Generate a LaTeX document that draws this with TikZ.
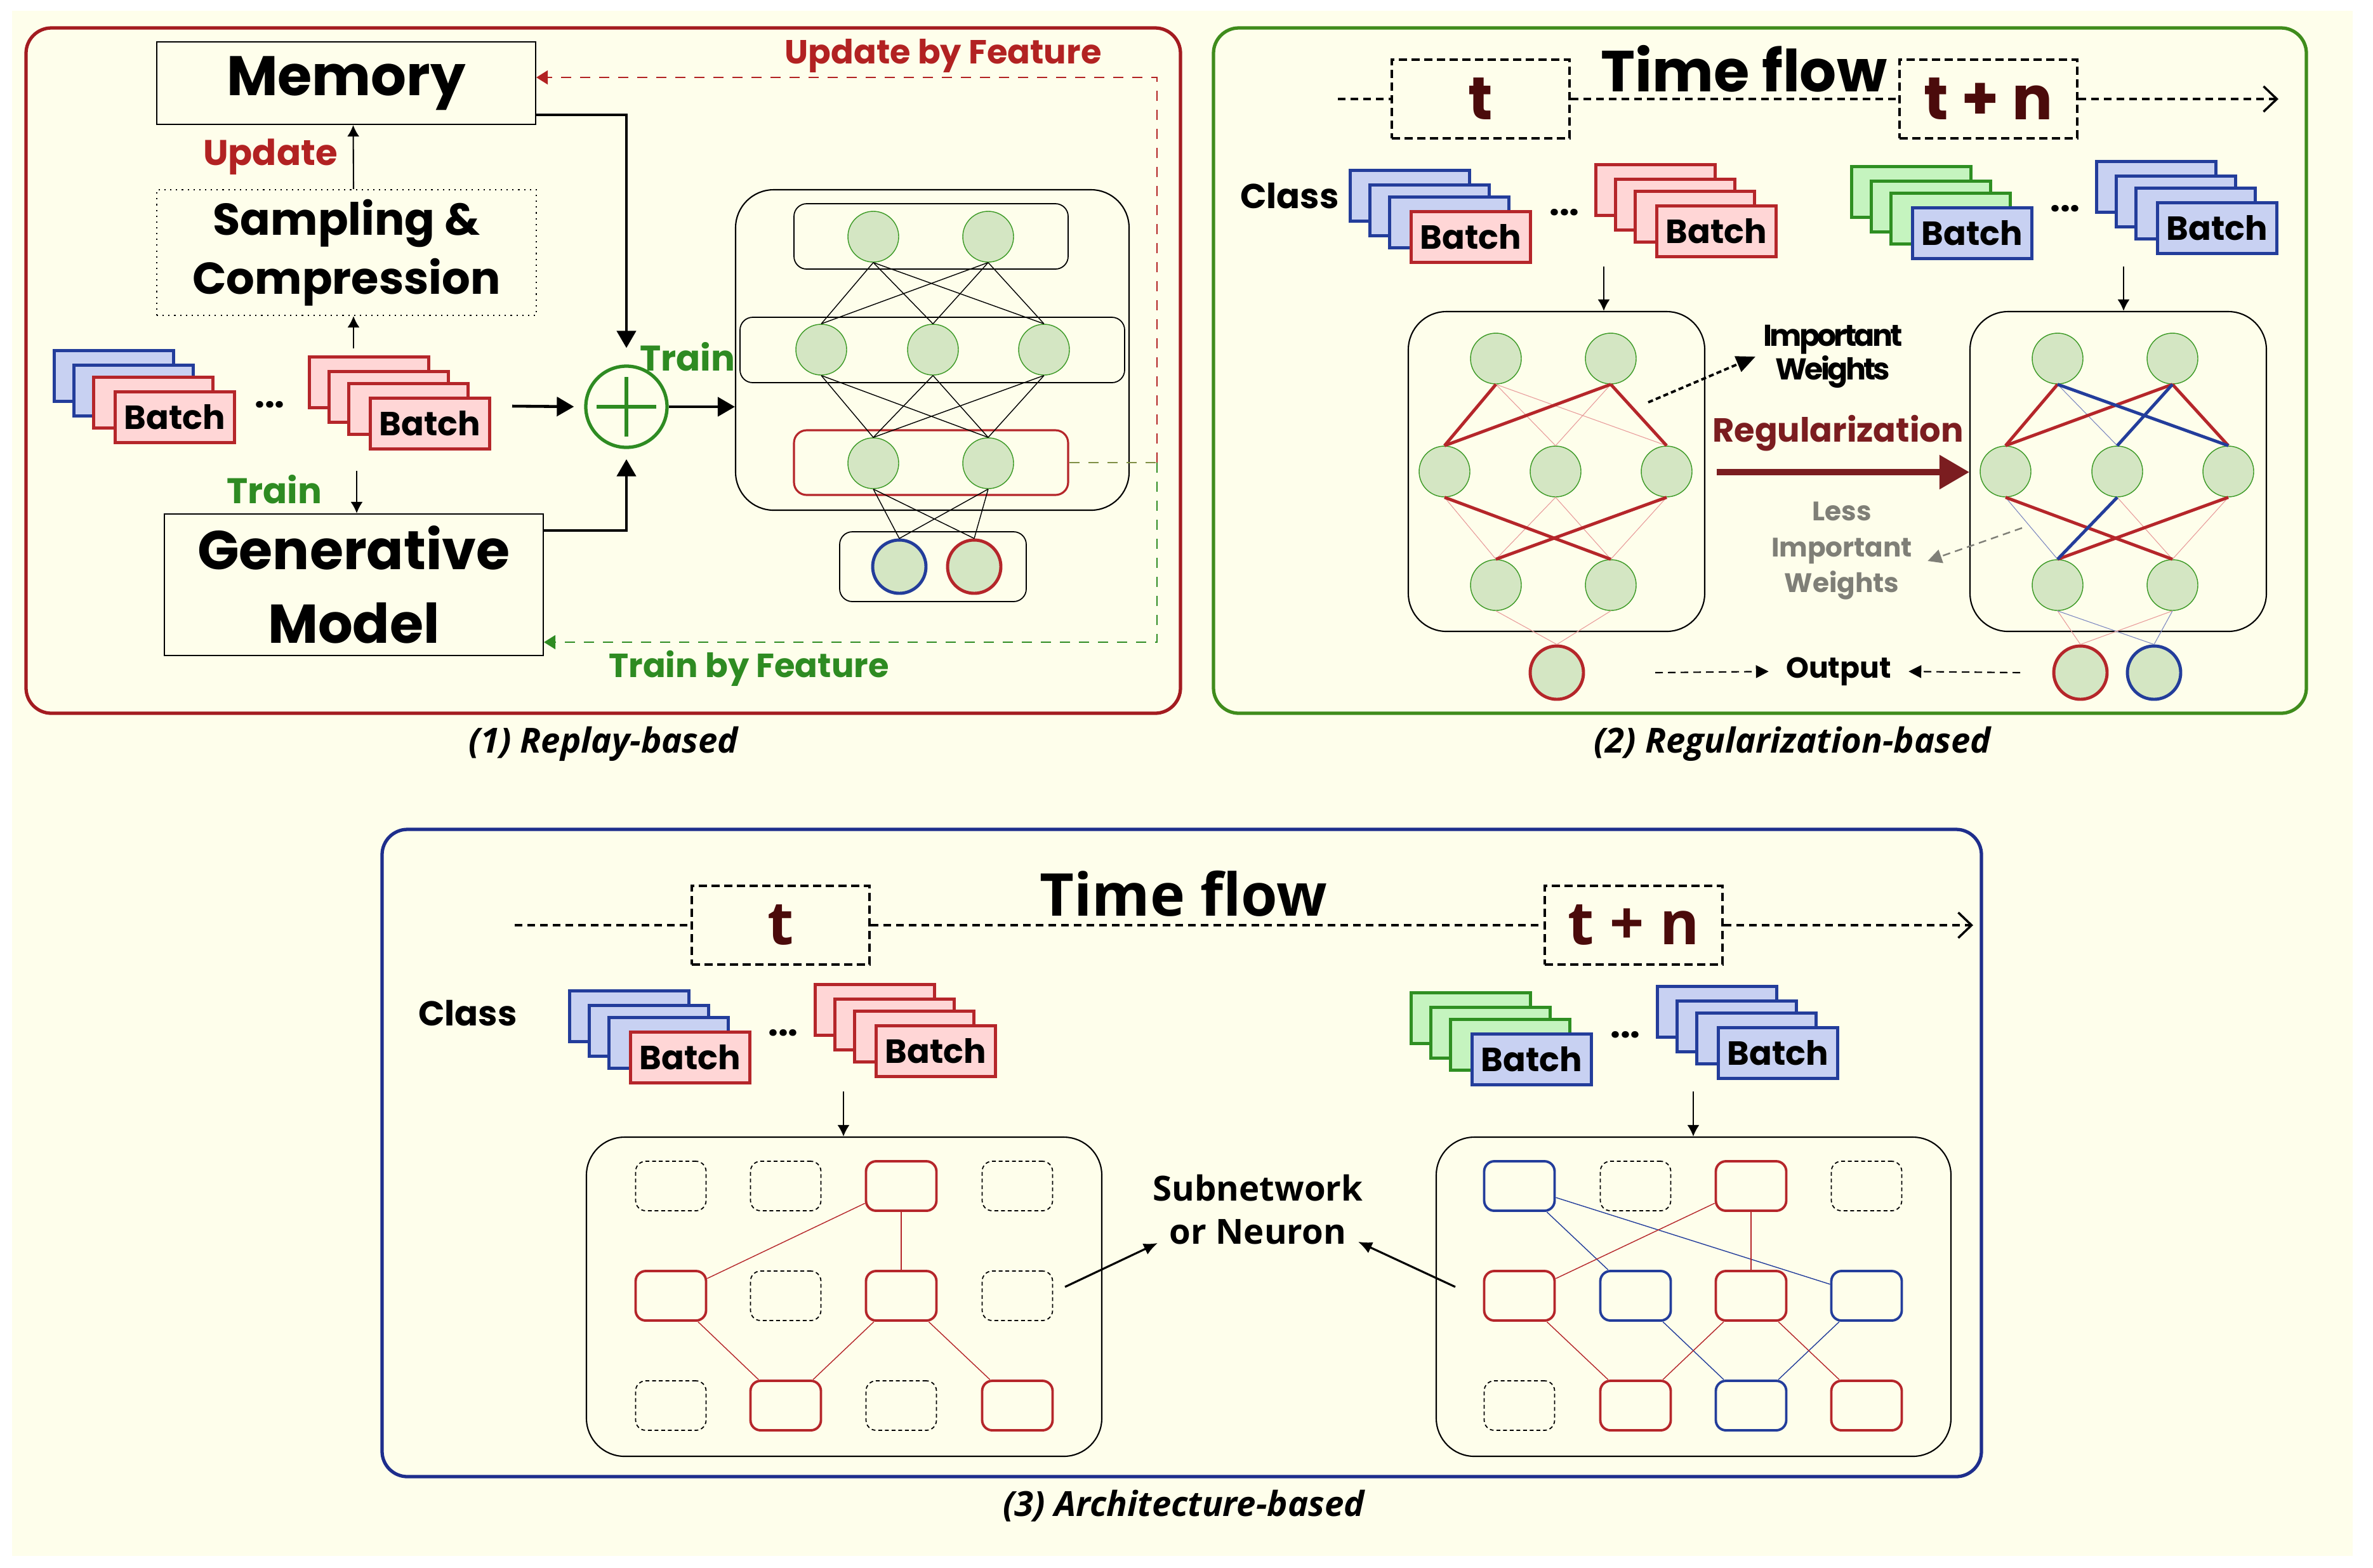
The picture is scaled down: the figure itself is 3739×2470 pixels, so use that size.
\documentclass[tikz,border=0pt]{standalone}
\usepackage{fontspec}
\setmainfont{Poppins}
\newfontfamily\osfont{Open Sans}
\usetikzlibrary{arrows.meta,positioning}

\definecolor{cream}{HTML}{FEFEEB}
\definecolor{panelred}{HTML}{A31B20}
\definecolor{panelgreen}{HTML}{3F8C1C}
\definecolor{panelblue}{HTML}{1E2E8C}
\definecolor{redline}{HTML}{B5262A}
\definecolor{redfill}{HTML}{FFD6D6}
\definecolor{blueline}{HTML}{233D9B}
\definecolor{bluefill}{HTML}{C8D1F2}
\definecolor{greenline}{HTML}{2F8F22}
\definecolor{greenfill}{HTML}{C5F4BF}
\definecolor{nfill}{HTML}{D4E6C3}
\definecolor{nedge}{HTML}{3C9A25}
\definecolor{updc}{HTML}{B22222}
\definecolor{trainc}{HTML}{2E8B22}
\definecolor{tcol}{HTML}{4B0B0B}
\definecolor{regc}{HTML}{7B1D20}
\definecolor{lessc}{HTML}{7F7F77}
\definecolor{pinkw}{HTML}{E89A9A}
\definecolor{bluew}{HTML}{7B86C0}
\definecolor{olivec}{HTML}{7F8F45}

\tikzset{
  batch/.style={draw, line width=1.3pt, anchor=north west, minimum width=18.8mm, minimum height=8mm, inner sep=0pt, font=\bfseries\fontsize{15}{18}\selectfont},
  neuron/.style={circle, draw=nedge, fill=nfill, line width=0.4pt, minimum size=8mm, inner sep=0pt},
  outneuron/.style={neuron, line width=1.4pt, minimum size=8.4mm},
  plainbox/.style={draw, line width=0.6pt, inner sep=0pt},
  layerbox/.style={draw, line width=0.5pt, rounded corners=2mm, inner sep=0pt},
  netbox/.style={draw, line width=0.6pt, rounded corners=6mm, inner sep=0pt},
  timebox/.style={draw, line width=1.1pt, dash pattern=on 1.3mm off 0.7mm, inner sep=0pt, minimum width=28mm, minimum height=12.4mm, text=tcol, font=\bfseries\fontsize{27}{30}\selectfont},
  timeline/.style={line width=1pt, dash pattern=on 1.2mm off 0.8mm},
  unit/.style={draw, line width=1.1pt, rounded corners=1.6mm, minimum width=11.1mm, minimum height=7.8mm, inner sep=0pt},
  idle/.style={unit, line width=0.5pt, dash pattern=on 0.6mm off 0.45mm},
  lbl/.style={font=\bfseries\fontsize{16}{19}\selectfont},
  arr/.style={-{Latex[length=1.8mm,width=1.9mm]}, line width=0.6pt},
  heavyarr/.style={-{Triangle[length=2.7mm,width=3mm]}, line width=1.3pt},
  fbdash/.style={line width=0.6pt, dash pattern=on 1.6mm off 1.4mm},
  fbarr/.style={fbdash, -{Triangle[length=1.8mm,width=2.2mm]}},
  outarr/.style={line width=0.6pt, dash pattern=on 1.2mm off 0.8mm, -{Triangle[length=2mm,width=2mm]}},
  captext/.style={font=\osfont\bfseries\itshape\fontsize{15.5}{18}\selectfont}
}

\begin{document}
\begin{tikzpicture}[x=0.1mm, y=-0.1mm]
\useasboundingbox (0,0) rectangle (3739,2470);
\fill[white] (0,0) rectangle (3739,2470);
\fill[cream] (19,17) rectangle (3707,2452);

% Draw panel frames
\foreach \col/\xa/\ya/\xb/\yb in {panelred/41/44/1860/1124, panelgreen/1912/44/3634/1124, panelblue/602/1307/3122/2327}
  \draw[\col, line width=1.5pt, rounded corners=4mm] (\xa,\ya) rectangle (\xb,\yb);

% Draw batch stacks
\foreach \s/\x/\y/\ca/\cb/\cc/\cd in {pa/83/550/blue/blue/red/red, pb/485/560/red/red/red/red,
    ga/2125/266/blue/blue/blue/red, gb/2512/257/red/red/red/red, gc/2915/260/green/green/green/blue, gd/3301/252/blue/blue/blue/blue,
    ea/895/1559/blue/blue/blue/red, eb/1282/1549/red/red/red/red, ec/2221/1562/green/green/green/blue, ed/2609/1552/blue/blue/blue/blue} {
  \foreach \i/\dx/\dy/\col in {1/0/0/\ca, 2/31/23/\cb, 3/62/42/\cc}
    \node[batch, draw=\col line, fill=\col fill] (\s\i) at (\x+\dx,\y+\dy) {};
  \node[batch, draw=\cd line, fill=\cd fill] (\s4) at (\x+96,\y+65) {Batch};
}
\foreach \n/\x/\y in {pdots/425/638, gdots1/2465/335, gdots2/3254/329, edots1/1234/1628, edots2/2561/1631}
  \node[lbl] (\n) at (\x,\y) {...};

% (1) Replay-based
\node[plainbox, minimum width=59.7mm, minimum height=13mm, font=\bfseries\fontsize{25}{30}\selectfont] (mem) at (545.5,131) {Memory};
\node[plainbox, dotted, minimum width=59.8mm, minimum height=19.8mm, align=center, font=\bfseries\fontsize{20}{26.5}\selectfont] (samp) at (546,398) {Sampling \&\\Compression};
\node[plainbox, minimum width=59.7mm, minimum height=22.3mm, align=center, font=\bfseries\fontsize{24.5}{33}\selectfont] (gen) at (557.5,921.5) {Generative\\Model};
\node[lbl, text=updc] (upd) at (426,247) {Update};
\node[lbl, text=trainc] (trainl) at (432,771) {Train};
\draw[arr] ([xshift=1.1mm]samp.north) -- ([xshift=1.1mm]mem.south);
\coordinate (sampin) at (557,549);
\draw[arr] (sampin) -- (sampin |- samp.south);
\coordinate (genin) at (562,742);
\draw[arr] (genin) -- (genin |- gen.north);

\node[netbox, minimum width=62mm, minimum height=50.5mm] (net1) at (1469,551.5) {};
\node[layerbox, minimum width=43.2mm, minimum height=10.3mm] (lay1) at (1467,372.5) {};
\node[layerbox, minimum width=60.6mm, minimum height=10.3mm] (lay2) at (1469,551.5) {};
\node[layerbox, draw=redline, line width=0.9pt, minimum width=43.2mm, minimum height=10.2mm] (lay3) at (1467,729) {};
\node[layerbox, minimum width=29.4mm, minimum height=11mm] (lay4) at (1470,893) {};
\foreach \i/\x in {1/1376,2/1557} \node[neuron] (ra\i) at (\x,373) {};
\foreach \i/\x in {1/1294,2/1470,3/1645} \node[neuron] (rb\i) at (\x,551) {};
\foreach \i/\x in {1/1376,2/1557} \node[neuron] (rc\i) at (\x,730) {};
\node[outneuron, draw=blueline] (rd1) at (1417,893) {};
\node[outneuron, draw=redline] (rd2) at (1535,893) {};
\foreach \i in {1,2} \foreach \j in {1,2,3}
  \draw[line width=0.4pt] (ra\i.south) -- (rb\j.north) (rb\j.south) -- (rc\i.north);
\foreach \i in {1,2} \foreach \j in {1,2}
  \draw[line width=0.4pt] (rc\i.south) -- (rd\j.north);

\node[circle, draw=trainc, line width=1.5pt, minimum size=12.8mm, inner sep=0pt] (plus) at (987,641) {};
\draw[trainc, line width=1.5pt] (plus.center) ++(-47,0) -- ++(94,0) (plus.center) ++(0,-47) -- ++(0,94);
\node[lbl, text=trainc] (trainr) at (1083,562) {Train};
\coordinate (pbout) at (807,640);
\draw[heavyarr, shorten >=1.6mm] (pbout) -- (plus.west);
\draw[heavyarr, shorten >=2.6mm] ([yshift=-5mm]mem.east) -| (plus.north);
\draw[heavyarr, shorten >=1.6mm] ([yshift=8.55mm]gen.east) -| (plus.south);
\draw[heavyarr] (plus.east) -- (plus.east -| net1.west);

% feature feedback
\coordinate (fb) at (1823,729);
\draw[olivec, fbdash] (lay3.east) -- (fb);
\draw[updc, fbarr] (fb) |- ([yshift=0.9mm]mem.east);
\draw[trainc, fbarr] (fb) |- ([yshift=-9.05mm]gen.east);
\node[lbl, text=updc, font=\bfseries\fontsize{15}{18}\selectfont] (ubf) at (1486,88) {Update by Feature};
\node[lbl, text=trainc, font=\bfseries\fontsize{15}{18}\selectfont] (tbf) at (1180,1053) {Train by Feature};
\node[captext] (cap1) at (951,1172) {(1) Replay-based};

% (2) Regularization-based
\coordinate (gstart) at (2108,156);
\coordinate (gend) at (3590,156);
\node[timebox] (gt) at (2333,156) {t};
\node[timebox] (gtn) at (3133,156) {t + n};
\draw[timeline] (gstart) -- (gt.west) (gt.east) -- (gtn.west);
\draw[timeline, -{Straight Barb[length=2.1mm,width=4mm]}] (gtn.east) -- (gend);
\node[font=\bfseries\fontsize{26}{30}\selectfont] (gtf) at (2748,108) {Time flow};
\node[lbl, font=\bfseries\fontsize{15.5}{18}\selectfont] (gcls) at (2032,309) {Class};

\node[netbox, minimum width=46.7mm, minimum height=50.4mm] (neta) at (2452.5,743) {};
\node[netbox, minimum width=46.7mm, minimum height=50.4mm] (netb) at (3337.5,743) {};
\coordinate (gain) at (2527,420);
\coordinate (gbin) at (3346,420);
\draw[arr] (gain) -- (gain |- neta.north);
\draw[arr] (gbin) -- (gbin |- netb.north);

\foreach \i/\x in {1/2357,2/2538} {
  \node[neuron] (na\i) at (\x,565) {};
  \node[neuron] (nc\i) at (\x,922) {};
}
\foreach \i/\x in {1/2276,2/2451,3/2626} \node[neuron] (nb\i) at (\x,743) {};
\node[outneuron, draw=redline] (nd1) at (2453,1060) {};
\foreach \i/\j/\col/\w in {1/2/pinkw/0.3pt, 1/3/pinkw/0.3pt, 2/2/pinkw/0.3pt, 1/1/redline/1.4pt, 2/1/redline/1.4pt, 2/3/redline/1.4pt}
  \draw[\col, line width=\w] (na\i.south) -- (nb\j.north);
\foreach \j/\i/\col/\w in {1/1/pinkw/0.3pt, 2/1/pinkw/0.3pt, 2/2/pinkw/0.3pt, 3/2/pinkw/0.3pt, 1/2/redline/1.4pt, 3/1/redline/1.4pt}
  \draw[\col, line width=\w] (nb\j.south) -- (nc\i.north);
\foreach \i in {1,2} \draw[pinkw, line width=0.3pt] (nc\i.south) -- (nd1.north);

\foreach \i/\x in {1/3242,2/3423} {
  \node[neuron] (ma\i) at (\x,565) {};
  \node[neuron] (mc\i) at (\x,922) {};
}
\foreach \i/\x in {1/3160,2/3336,3/3511} \node[neuron] (mb\i) at (\x,743) {};
\node[outneuron, draw=redline] (md1) at (3278,1060) {};
\node[outneuron, draw=blueline] (md2) at (3394,1060) {};
\foreach \i/\j/\col/\w in {1/2/bluew/0.3pt, 1/1/redline/1.4pt, 2/1/redline/1.4pt, 2/3/redline/1.4pt, 1/3/blueline/1.4pt, 2/2/blueline/1.4pt}
  \draw[\col, line width=\w] (ma\i.south) -- (mb\j.north);
\foreach \j/\i/\col/\w in {1/1/bluew/0.3pt, 2/2/pinkw/0.3pt, 3/2/pinkw/0.3pt, 1/2/redline/1.4pt, 3/1/redline/1.4pt, 2/1/blueline/1.4pt}
  \draw[\col, line width=\w] (mb\j.south) -- (mc\i.north);
\foreach \i in {1,2} {
  \draw[pinkw, line width=0.3pt] (mc\i.south) -- (md1.north);
  \draw[bluew, line width=0.3pt] (mc\i.south) -- (md2.north);
}

\node[font=\bfseries\fontsize{13.5}{15}\selectfont\addfontfeature{LetterSpace=-8}, align=center] (impw) at (2888,562) {Important\\Weights};
\coordinate (imps) at (2597,634);
\draw[line width=1.1pt, dash pattern=on 0.8mm off 0.5mm, -{Triangle[length=3mm,width=2.6mm]}] (imps) -- (impw.west);
\node[text=regc, font=\bfseries\fontsize{15}{18}\selectfont] (regl) at (2896,683) {Regularization};
\coordinate (regs) at (2705,744);
\draw[regc, line width=2.6pt, -{Triangle[length=4.7mm,width=5.2mm]}] (regs) -- (regs -| netb.west);
\node[text=lessc, font=\bfseries\fontsize{12}{16.2}\selectfont, align=center] (lessw) at (2902,868) {Less\\Important\\Weights};
\coordinate (lesss) at (3186,832);
\draw[lessc, line width=0.7pt, dash pattern=on 1.2mm off 0.8mm, -{Triangle[length=2.2mm,width=2.2mm]}] (lesss) -- ([shift={(1.2mm,-1.6mm)}]lessw.east);
\node[font=\bfseries\fontsize{13}{15}\selectfont] (outl) at (2897,1058) {Output};
\coordinate (outa) at (2608,1060);
\coordinate (outb) at (3183,1060);
\draw[outarr, shorten >=1.5mm] (outa) -- (outl.west);
\draw[outarr, shorten >=1.5mm] (outb) -- (outl.east);
\node[captext] (cap2) at (2824,1172) {(2) Regularization-based};

% (3) Architecture-based
\coordinate (estart) at (811,1458);
\coordinate (eend) at (3109,1458);
\node[timebox, font=\osfont\bfseries\fontsize{27}{30}\selectfont] (et) at (1230,1458) {t};
\node[timebox, font=\osfont\bfseries\fontsize{27}{30}\selectfont] (etn) at (2574,1458) {t + n};
\draw[timeline] (estart) -- (et.west) (et.east) -- (etn.west);
\draw[timeline, -{Straight Barb[length=2.1mm,width=4mm]}] (etn.east) -- (eend);
\node[font=\osfont\bfseries\fontsize{26.5}{30}\selectfont] (etf) at (1865,1408) {Time flow};
\node[lbl, font=\bfseries\fontsize{15.5}{18}\selectfont] (ecls) at (737,1597) {Class};

\node[netbox, minimum width=81.2mm, minimum height=50.3mm] (nete) at (1330,2043.5) {};
\node[netbox, minimum width=81.1mm, minimum height=50.3mm] (netf) at (2668.5,2043.5) {};
\coordinate (ein) at (1329,1720);
\coordinate (fin) at (2668,1720);
\draw[arr] (ein) -- (ein |- nete.north);
\draw[arr] (fin) -- (fin |- netf.north);

\foreach \n/\x/\y in {11/1057/1869, 12/1238/1869, 14/1603/1869, 22/1238/2042, 24/1603/2042, 31/1057/2215, 33/1420/2215}
  \node[idle] (ue\n) at (\x,\y) {};
\foreach \n/\x/\y in {13/1420/1869, 21/1057/2042, 23/1420/2042, 32/1238/2215, 34/1603/2215}
  \node[unit, draw=redline] (ue\n) at (\x,\y) {};
\foreach \a/\b in {13/21, 13/23, 21/32, 23/32, 23/34}
  \draw[redline, line width=0.4pt] (ue\a) -- (ue\b);

\foreach \n/\x/\y in {12/2577/1869, 14/2941/1869, 31/2394/2215}
  \node[idle] (uf\n) at (\x,\y) {};
\foreach \n/\x/\y/\col in {11/2394/1869/blueline, 22/2577/2042/blueline, 24/2941/2042/blueline, 33/2759/2215/blueline,
    13/2759/1869/redline, 21/2394/2042/redline, 23/2759/2042/redline, 32/2577/2215/redline, 34/2941/2215/redline}
  \node[unit, draw=\col] (uf\n) at (\x,\y) {};
\foreach \a/\b/\col in {11/22/blueline, 11/24/blueline, 22/33/blueline, 24/33/blueline,
    13/21/redline, 13/23/redline, 21/32/redline, 23/32/redline, 23/34/redline}
  \draw[\col, line width=0.4pt] (uf\a) -- (uf\b);

\node[font=\osfont\bfseries\fontsize{15.5}{19.6}\selectfont, align=center] (subn) at (1982,1906) {Subnetwork\\or Neuron};
\coordinate (suba) at (1678,2028);
\coordinate (subb) at (2293,2028);
\draw[line width=0.9pt, -{Latex[length=2.2mm,width=1.9mm]}] (suba) -- ([shift={(2mm,1.5mm)}]subn.south west);
\draw[line width=0.9pt, -{Latex[length=2.2mm,width=1.9mm]}] (subb) -- ([shift={(-2mm,1.7mm)}]subn.south east);
\node[captext] (cap3) at (1865,2373) {(3) Architecture-based};
\end{tikzpicture}
\end{document}
